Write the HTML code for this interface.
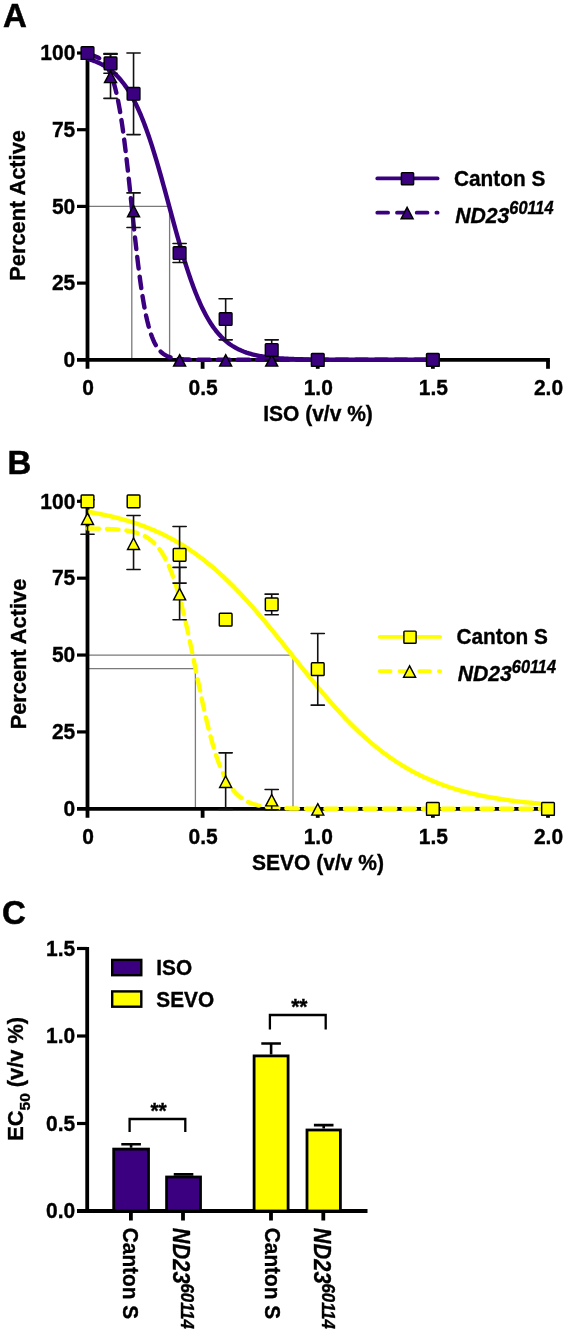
<!DOCTYPE html>
<html><head><meta charset="utf-8"><style>
html,body{margin:0;padding:0;background:#fff;width:566px;height:1333px;overflow:hidden;}
svg{display:block;will-change:transform;}
text{font-family:"Liberation Sans",sans-serif;font-weight:bold;fill:#000;stroke:#000;stroke-width:0.35px;}
.tk{font-size:21px;}
.ti{font-size:21px;}
.ti2{font-size:21.8px;}
.lg{font-size:20.8px;}
.it{font-size:21.2px;font-style:italic;}
.sup{font-size:16.3px;}
.sub{font-size:15.5px;}
.pl{font-size:33px;stroke-width:0.5px;}
.rt{font-size:21.8px;}
.rt .sup{font-size:16.8px;}
</style></head><body>
<svg width="566" height="1333" viewBox="0 0 566 1333">
<rect width="566" height="1333" fill="#fff"/>
<text transform="translate(3.00,27.00) scale(1,1.030)" class="pl">A</text>
<text transform="translate(7.50,474.30) scale(1,1.030)" class="pl">B</text>
<text transform="translate(2.00,924.30) scale(1,1.030)" class="pl">C</text>
<path d="M87.5,206.40 H169.6 V359.80" stroke="#7a7a7a" stroke-width="1.3" fill="none"/>
<path d="M131.8,206.40 V359.80" stroke="#7a7a7a" stroke-width="1.3" fill="none"/>
<path d="M87.5,51.50 V368.80" stroke="#000" stroke-width="3.80"/>
<path d="M77,359.80 H549.90" stroke="#000" stroke-width="3.80"/>
<path d="M77,283.10 H87.5" stroke="#000" stroke-width="3.2"/>
<path d="M77,206.40 H87.5" stroke="#000" stroke-width="3.2"/>
<path d="M77,129.70 H87.5" stroke="#000" stroke-width="3.2"/>
<path d="M77,53.00 H87.5" stroke="#000" stroke-width="3.2"/>
<path d="M202.62,359.80 V368.80" stroke="#000" stroke-width="3.80"/>
<path d="M317.75,359.80 V368.80" stroke="#000" stroke-width="3.80"/>
<path d="M432.88,359.80 V368.80" stroke="#000" stroke-width="3.80"/>
<path d="M548.00,359.80 V368.80" stroke="#000" stroke-width="3.80"/>
<text transform="translate(75.30,367.00) scale(1,1.070)" class="tk" text-anchor="end">0</text>
<text transform="translate(75.30,290.30) scale(1,1.070)" class="tk" text-anchor="end">25</text>
<text transform="translate(75.30,213.60) scale(1,1.070)" class="tk" text-anchor="end">50</text>
<text transform="translate(75.30,136.90) scale(1,1.070)" class="tk" text-anchor="end">75</text>
<text transform="translate(75.30,60.20) scale(1,1.070)" class="tk" text-anchor="end">100</text>
<text transform="translate(88.00,394.60) scale(1,1.070)" class="tk" text-anchor="middle">0</text>
<text transform="translate(203.12,394.60) scale(1,1.070)" class="tk" text-anchor="middle">0.5</text>
<text transform="translate(318.25,394.60) scale(1,1.070)" class="tk" text-anchor="middle">1.0</text>
<text transform="translate(433.38,394.60) scale(1,1.070)" class="tk" text-anchor="middle">1.5</text>
<text transform="translate(548.50,394.60) scale(1,1.070)" class="tk" text-anchor="middle">2.0</text>
<text transform="translate(318.00,421.30) scale(1,1.070)" class="ti" text-anchor="middle">ISO (v/v %)</text>
<text transform="translate(24.80,205.40) rotate(-90) scale(1,1.000)" class="ti2" text-anchor="middle">Percent Active</text>
<path d="M87.50,58.83 L88.65,59.15 L89.80,59.50 L90.95,59.86 L92.11,60.24 L93.26,60.65 L94.41,61.07 L95.56,61.52 L96.71,61.99 L97.86,62.49 L99.01,63.02 L100.16,63.57 L101.31,64.15 L102.47,64.76 L103.62,65.41 L104.77,66.09 L105.92,66.80 L107.07,67.55 L108.22,68.34 L109.37,69.17 L110.53,70.04 L111.68,70.96 L112.83,71.92 L113.98,72.93 L115.13,73.99 L116.28,75.11 L117.43,76.27 L118.58,77.50 L119.74,78.78 L120.89,80.12 L122.04,81.53 L123.19,83.00 L124.34,84.53 L125.49,86.14 L126.64,87.82 L127.79,89.57 L128.94,91.40 L130.10,93.30 L131.25,95.29 L132.40,97.36 L133.55,99.51 L134.70,101.74 L135.85,104.06 L137.00,106.47 L138.16,108.97 L139.31,111.56 L140.46,114.23 L141.61,117.00 L142.76,119.86 L143.91,122.81 L145.06,125.85 L146.21,128.98 L147.37,132.20 L148.52,135.51 L149.67,138.91 L150.82,142.38 L151.97,145.94 L153.12,149.58 L154.27,153.29 L155.42,157.08 L156.57,160.93 L157.73,164.85 L158.88,168.83 L160.03,172.86 L161.18,176.94 L162.33,181.07 L163.48,185.23 L164.63,189.43 L165.79,193.65 L166.94,197.89 L168.09,202.14 L169.24,206.40 L170.39,210.66 L171.54,214.91 L172.69,219.15 L173.84,223.37 L175.00,227.57 L176.15,231.73 L177.30,235.86 L178.45,239.94 L179.60,243.97 L180.75,247.95 L181.90,251.87 L183.05,255.72 L184.20,259.51 L185.36,263.22 L186.51,266.86 L187.66,270.42 L188.81,273.89 L189.96,277.29 L191.11,280.60 L192.26,283.82 L193.42,286.95 L194.57,289.99 L195.72,292.94 L196.87,295.80 L198.02,298.57 L199.17,301.24 L200.32,303.83 L201.47,306.33 L202.62,308.74 L203.78,311.06 L204.93,313.29 L206.08,315.44 L207.23,317.51 L208.38,319.50 L209.53,321.40 L210.68,323.23 L211.84,324.98 L212.99,326.66 L214.14,328.27 L215.29,329.80 L216.44,331.27 L217.59,332.68 L218.74,334.02 L219.89,335.30 L221.04,336.53 L222.20,337.69 L223.35,338.81 L224.50,339.87 L225.65,340.88 L226.80,341.84 L227.95,342.76 L229.10,343.63 L230.25,344.46 L231.41,345.25 L232.56,346.00 L233.71,346.71 L234.86,347.39 L236.01,348.04 L237.16,348.65 L238.31,349.23 L239.47,349.78 L240.62,350.31 L241.77,350.81 L242.92,351.28 L244.07,351.73 L245.22,352.15 L246.37,352.56 L247.52,352.94 L248.67,353.30 L249.83,353.65 L250.98,353.97 L252.13,354.28 L253.28,354.57 L254.43,354.85 L255.58,355.12 L256.73,355.37 L257.88,355.60 L259.04,355.83 L260.19,356.04 L261.34,356.24 L262.49,356.43 L263.64,356.61 L264.79,356.78 L265.94,356.94 L267.10,357.09 L268.25,357.24 L269.40,357.38 L270.55,357.51 L271.70,357.63 L272.85,357.75 L274.00,357.86 L275.15,357.96 L276.30,358.06 L277.46,358.15 L278.61,358.24 L279.76,358.33 L280.91,358.41 L282.06,358.48 L283.21,358.55 L284.36,358.62 L285.51,358.68 L286.67,358.74 L287.82,358.80 L288.97,358.85 L290.12,358.90 L291.27,358.95 L292.42,359.00 L293.57,359.04 L294.73,359.08 L295.88,359.12 L297.03,359.16 L298.18,359.19 L299.33,359.23 L300.48,359.26 L301.63,359.29 L302.78,359.31 L303.93,359.34 L305.09,359.36 L306.24,359.39 L307.39,359.41 L308.54,359.43 L309.69,359.45 L310.84,359.47 L311.99,359.49 L313.14,359.50 L314.30,359.52 L315.45,359.54 L316.60,359.55 L317.75,359.56 L318.90,359.58 L320.05,359.59 L321.20,359.60 L322.36,359.61 L323.51,359.62 L324.66,359.63 L325.81,359.64 L326.96,359.65 L328.11,359.66 L329.26,359.66 L330.41,359.67 L331.57,359.68 L332.72,359.69 L333.87,359.69 L335.02,359.70 L336.17,359.70 L337.32,359.71 L338.47,359.71 L339.62,359.72 L340.78,359.72 L341.93,359.73 L343.08,359.73 L344.23,359.73 L345.38,359.74 L346.53,359.74 L347.68,359.74 L348.83,359.75 L349.98,359.75 L351.14,359.75 L352.29,359.76 L353.44,359.76 L354.59,359.76 L355.74,359.76 L356.89,359.76 L358.04,359.77 L359.19,359.77 L360.35,359.77 L361.50,359.77 L362.65,359.77 L363.80,359.77 L364.95,359.78 L366.10,359.78 L367.25,359.78 L368.40,359.78 L369.56,359.78 L370.71,359.78 L371.86,359.78 L373.01,359.78 L374.16,359.78 L375.31,359.79 L376.46,359.79 L377.62,359.79 L378.77,359.79 L379.92,359.79 L381.07,359.79 L382.22,359.79 L383.37,359.79 L384.52,359.79 L385.67,359.79 L386.82,359.79 L387.98,359.79 L389.13,359.79 L390.28,359.79 L391.43,359.79 L392.58,359.79 L393.73,359.79 L394.88,359.79 L396.04,359.79 L397.19,359.79 L398.34,359.80 L399.49,359.80 L400.64,359.80 L401.79,359.80 L402.94,359.80 L404.09,359.80 L405.24,359.80 L406.40,359.80 L407.55,359.80 L408.70,359.80 L409.85,359.80 L411.00,359.80 L412.15,359.80 L413.30,359.80 L414.45,359.80 L415.61,359.80 L416.76,359.80 L417.91,359.80 L419.06,359.80 L420.21,359.80 L421.36,359.80 L422.51,359.80 L423.66,359.80 L424.82,359.80 L425.97,359.80 L427.12,359.80 L428.27,359.80 L429.42,359.80 L430.57,359.80 L431.72,359.80 L432.88,359.80" stroke="#3B0080" stroke-width="4.40" fill="none"/>
<path d="M87.50,54.27 L88.65,54.46 L89.80,54.68 L90.95,54.94 L92.11,55.24 L93.26,55.58 L94.41,55.97 L95.56,56.42 L96.71,56.94 L97.86,57.53 L99.01,58.22 L100.16,59.00 L101.31,59.90 L102.47,60.94 L103.62,62.12 L104.77,63.47 L105.92,65.02 L107.07,66.78 L108.22,68.79 L109.37,71.07 L110.53,73.65 L111.68,76.58 L112.83,79.89 L113.98,83.60 L115.13,87.77 L116.28,92.42 L117.43,97.60 L118.58,103.32 L119.74,109.62 L120.89,116.52 L122.04,124.02 L123.19,132.11 L124.34,140.78 L125.49,150.00 L126.64,159.72 L127.79,169.86 L128.94,180.36 L130.10,191.11 L131.25,202.02 L132.40,212.97 L133.55,223.86 L134.70,234.57 L135.85,245.00 L137.00,255.06 L138.16,264.68 L139.31,273.80 L140.46,282.36 L141.61,290.33 L142.76,297.71 L143.91,304.48 L145.06,310.67 L146.21,316.28 L147.37,321.35 L148.52,325.90 L149.67,329.97 L150.82,333.61 L151.97,336.83 L153.12,339.69 L154.27,342.21 L155.42,344.44 L156.57,346.39 L157.73,348.11 L158.88,349.61 L160.03,350.93 L161.18,352.08 L162.33,353.09 L163.48,353.96 L164.63,354.73 L165.79,355.39 L166.94,355.97 L168.09,356.48 L169.24,356.91 L170.39,357.30 L171.54,357.63 L172.69,357.91 L173.84,358.16 L175.00,358.38 L176.15,358.57 L177.30,358.73 L178.45,358.87 L179.60,359.00 L180.75,359.10 L181.90,359.20 L183.05,359.28 L184.20,359.35 L185.36,359.41 L186.51,359.46 L187.66,359.50 L188.81,359.54 L189.96,359.58 L191.11,359.61 L192.26,359.63 L193.42,359.66 L194.57,359.67 L195.72,359.69 L196.87,359.71 L198.02,359.72 L199.17,359.73 L200.32,359.74 L201.47,359.75 L202.62,359.75 L203.78,359.76 L204.93,359.77 L206.08,359.77 L207.23,359.77 L208.38,359.78 L209.53,359.78 L210.68,359.78 L211.84,359.79 L212.99,359.79 L214.14,359.79 L215.29,359.79 L216.44,359.79 L217.59,359.79 L218.74,359.79 L219.89,359.79 L221.04,359.80 L222.20,359.80 L223.35,359.80 L224.50,359.80 L225.65,359.80 L226.80,359.80 L227.95,359.80 L229.10,359.80 L230.25,359.80 L231.41,359.80 L232.56,359.80 L233.71,359.80 L234.86,359.80 L236.01,359.80 L237.16,359.80 L238.31,359.80 L239.47,359.80 L240.62,359.80 L241.77,359.80 L242.92,359.80 L244.07,359.80 L245.22,359.80 L246.37,359.80 L247.52,359.80 L248.67,359.80 L249.83,359.80 L250.98,359.80 L252.13,359.80 L253.28,359.80 L254.43,359.80 L255.58,359.80 L256.73,359.80 L257.88,359.80 L259.04,359.80 L260.19,359.80 L261.34,359.80 L262.49,359.80 L263.64,359.80 L264.79,359.80 L265.94,359.80 L267.10,359.80 L268.25,359.80 L269.40,359.80 L270.55,359.80 L271.70,359.80 L272.85,359.80 L274.00,359.80 L275.15,359.80 L276.30,359.80 L277.46,359.80 L278.61,359.80 L279.76,359.80 L280.91,359.80 L282.06,359.80 L283.21,359.80 L284.36,359.80 L285.51,359.80 L286.67,359.80 L287.82,359.80 L288.97,359.80 L290.12,359.80 L291.27,359.80 L292.42,359.80 L293.57,359.80 L294.73,359.80 L295.88,359.80 L297.03,359.80 L298.18,359.80 L299.33,359.80 L300.48,359.80 L301.63,359.80 L302.78,359.80 L303.93,359.80 L305.09,359.80 L306.24,359.80 L307.39,359.80 L308.54,359.80 L309.69,359.80 L310.84,359.80 L311.99,359.80 L313.14,359.80 L314.30,359.80 L315.45,359.80 L316.60,359.80 L317.75,359.80 L318.90,359.80 L320.05,359.80 L321.20,359.80 L322.36,359.80 L323.51,359.80 L324.66,359.80 L325.81,359.80 L326.96,359.80 L328.11,359.80 L329.26,359.80 L330.41,359.80 L331.57,359.80 L332.72,359.80 L333.87,359.80 L335.02,359.80 L336.17,359.80 L337.32,359.80 L338.47,359.80 L339.62,359.80 L340.78,359.80 L341.93,359.80 L343.08,359.80 L344.23,359.80 L345.38,359.80 L346.53,359.80 L347.68,359.80 L348.83,359.80 L349.98,359.80 L351.14,359.80 L352.29,359.80 L353.44,359.80 L354.59,359.80 L355.74,359.80 L356.89,359.80 L358.04,359.80 L359.19,359.80 L360.35,359.80 L361.50,359.80 L362.65,359.80 L363.80,359.80 L364.95,359.80 L366.10,359.80 L367.25,359.80 L368.40,359.80 L369.56,359.80 L370.71,359.80 L371.86,359.80 L373.01,359.80 L374.16,359.80 L375.31,359.80 L376.46,359.80 L377.62,359.80 L378.77,359.80 L379.92,359.80 L381.07,359.80 L382.22,359.80 L383.37,359.80 L384.52,359.80 L385.67,359.80 L386.82,359.80 L387.98,359.80 L389.13,359.80 L390.28,359.80 L391.43,359.80 L392.58,359.80 L393.73,359.80 L394.88,359.80 L396.04,359.80 L397.19,359.80 L398.34,359.80 L399.49,359.80 L400.64,359.80 L401.79,359.80 L402.94,359.80 L404.09,359.80 L405.24,359.80 L406.40,359.80 L407.55,359.80 L408.70,359.80 L409.85,359.80 L411.00,359.80 L412.15,359.80 L413.30,359.80 L414.45,359.80 L415.61,359.80 L416.76,359.80 L417.91,359.80 L419.06,359.80 L420.21,359.80 L421.36,359.80 L422.51,359.80 L423.66,359.80 L424.82,359.80 L425.97,359.80 L427.12,359.80 L428.27,359.80 L429.42,359.80 L430.57,359.80 L431.72,359.80 L432.88,359.80" stroke="#3B0080" stroke-width="4.40" fill="none" stroke-dasharray="11.6 8.1" stroke-dashoffset="-0.80" stroke-linecap="round"/>
<path d="M110.53,54.23 V98.41 M103.93,54.23 H117.12 M103.93,98.41 H117.12" stroke="#111" stroke-width="1.60" stroke-linecap="round" fill="none"/>
<path d="M133.55,192.90 V227.57 M126.95,192.90 H140.15 M126.95,227.57 H140.15" stroke="#111" stroke-width="1.60" stroke-linecap="round" fill="none"/>
<path d="M110.53,53.61 V73.25 M103.93,53.61 H117.12 M103.93,73.25 H117.12" stroke="#111" stroke-width="1.60" stroke-linecap="round" fill="none"/>
<path d="M133.55,53.00 V134.61 M126.95,53.00 H140.15 M126.95,134.61 H140.15" stroke="#111" stroke-width="1.60" stroke-linecap="round" fill="none"/>
<path d="M179.60,243.52 V262.54 M173.00,243.52 H186.20 M173.00,262.54 H186.20" stroke="#111" stroke-width="1.60" stroke-linecap="round" fill="none"/>
<path d="M225.65,298.75 V339.86 M219.05,298.75 H232.25 M219.05,339.86 H232.25" stroke="#111" stroke-width="1.60" stroke-linecap="round" fill="none"/>
<path d="M271.70,339.86 V360.11 M265.10,339.86 H278.30 M265.10,360.11 H278.30" stroke="#111" stroke-width="1.60" stroke-linecap="round" fill="none"/>
<path d="M87.50,47.90 L93.50,59.30 L81.50,59.30 Z" fill="#3B0080" stroke="#000" stroke-width="1.45"/>
<path d="M110.53,71.22 L116.53,82.62 L104.53,82.62 Z" fill="#3B0080" stroke="#000" stroke-width="1.45"/>
<path d="M133.55,205.29 L139.55,216.69 L127.55,216.69 Z" fill="#3B0080" stroke="#000" stroke-width="1.45"/>
<path d="M179.60,354.70 L185.60,366.10 L173.60,366.10 Z" fill="#3B0080" stroke="#000" stroke-width="1.45"/>
<path d="M225.65,354.70 L231.65,366.10 L219.65,366.10 Z" fill="#3B0080" stroke="#000" stroke-width="1.45"/>
<path d="M271.70,354.70 L277.70,366.10 L265.70,366.10 Z" fill="#3B0080" stroke="#000" stroke-width="1.45"/>
<path d="M317.75,354.70 L323.75,366.10 L311.75,366.10 Z" fill="#3B0080" stroke="#000" stroke-width="1.45"/>
<path d="M432.88,354.70 L438.88,366.10 L426.88,366.10 Z" fill="#3B0080" stroke="#000" stroke-width="1.45"/>
<rect x="81.15" y="46.65" width="12.70" height="12.70" rx="0.8" fill="#3B0080" stroke="#000" stroke-width="1.45"/>
<rect x="104.18" y="57.08" width="12.70" height="12.70" rx="0.8" fill="#3B0080" stroke="#000" stroke-width="1.45"/>
<rect x="127.20" y="87.45" width="12.70" height="12.70" rx="0.8" fill="#3B0080" stroke="#000" stroke-width="1.45"/>
<rect x="173.25" y="246.68" width="12.70" height="12.70" rx="0.8" fill="#3B0080" stroke="#000" stroke-width="1.45"/>
<rect x="219.30" y="312.65" width="12.70" height="12.70" rx="0.8" fill="#3B0080" stroke="#000" stroke-width="1.45"/>
<rect x="265.35" y="343.63" width="12.70" height="12.70" rx="0.8" fill="#3B0080" stroke="#000" stroke-width="1.45"/>
<rect x="311.40" y="353.45" width="12.70" height="12.70" rx="0.8" fill="#3B0080" stroke="#000" stroke-width="1.45"/>
<rect x="426.52" y="353.45" width="12.70" height="12.70" rx="0.8" fill="#3B0080" stroke="#000" stroke-width="1.45"/>
<path d="M377.30,178.40 H437.60" stroke="#3B0080" stroke-width="3.80" stroke-linecap="round"/>
<rect x="401.40" y="172.60" width="12.20" height="12.20" rx="0.8" fill="#3B0080" stroke="#000" stroke-width="1.45"/>
<path d="M377.30,212.70 H437.60" stroke="#3B0080" stroke-width="3.80" stroke-linecap="round" stroke-dasharray="10.8 8.9"/>
<path d="M407.10,207.30 L413.10,218.70 L401.10,218.70 Z" fill="#3B0080" stroke="#000" stroke-width="1.45"/>
<text transform="translate(454.00,185.80) scale(1,1.070)" class="lg">Canton S</text>
<text transform="translate(455.20,222.90) scale(1,1.070)" class="it">ND23<tspan class="sup" dy="-8.2">60114</tspan></text>
<path d="M87.5,655.05 H293.0 V808.80" stroke="#7a7a7a" stroke-width="1.3" fill="none"/>
<path d="M87.5,668.58 H195.4 V808.80" stroke="#7a7a7a" stroke-width="1.3" fill="none"/>
<path d="M87.5,499.80 V817.80" stroke="#000" stroke-width="3.80"/>
<path d="M77,808.80 H549.90" stroke="#000" stroke-width="3.80"/>
<path d="M77,731.92 H87.5" stroke="#000" stroke-width="3.2"/>
<path d="M77,655.05 H87.5" stroke="#000" stroke-width="3.2"/>
<path d="M77,578.17 H87.5" stroke="#000" stroke-width="3.2"/>
<path d="M77,501.30 H87.5" stroke="#000" stroke-width="3.2"/>
<path d="M202.62,808.80 V817.80" stroke="#000" stroke-width="3.80"/>
<path d="M317.75,808.80 V817.80" stroke="#000" stroke-width="3.80"/>
<path d="M432.88,808.80 V817.80" stroke="#000" stroke-width="3.80"/>
<path d="M548.00,808.80 V817.80" stroke="#000" stroke-width="3.80"/>
<text transform="translate(75.30,816.00) scale(1,1.070)" class="tk" text-anchor="end">0</text>
<text transform="translate(75.30,739.12) scale(1,1.070)" class="tk" text-anchor="end">25</text>
<text transform="translate(75.30,662.25) scale(1,1.070)" class="tk" text-anchor="end">50</text>
<text transform="translate(75.30,585.38) scale(1,1.070)" class="tk" text-anchor="end">75</text>
<text transform="translate(75.30,508.50) scale(1,1.070)" class="tk" text-anchor="end">100</text>
<text transform="translate(88.00,843.60) scale(1,1.070)" class="tk" text-anchor="middle">0</text>
<text transform="translate(203.12,843.60) scale(1,1.070)" class="tk" text-anchor="middle">0.5</text>
<text transform="translate(318.25,843.60) scale(1,1.070)" class="tk" text-anchor="middle">1.0</text>
<text transform="translate(433.38,843.60) scale(1,1.070)" class="tk" text-anchor="middle">1.5</text>
<text transform="translate(548.50,843.60) scale(1,1.070)" class="tk" text-anchor="middle">2.0</text>
<text transform="translate(318.00,870.30) scale(1,1.070)" class="ti" text-anchor="middle">SEVO (v/v %)</text>
<text transform="translate(25.80,654.05) rotate(-90) scale(1,1.000)" class="ti2" text-anchor="middle">Percent Active</text>
<path d="M87.50,511.71 L89.03,511.97 L90.57,512.23 L92.11,512.50 L93.64,512.77 L95.17,513.06 L96.71,513.34 L98.25,513.64 L99.78,513.94 L101.31,514.25 L102.85,514.56 L104.39,514.89 L105.92,515.22 L107.45,515.56 L108.99,515.90 L110.53,516.25 L112.06,516.62 L113.59,516.99 L115.13,517.37 L116.67,517.75 L118.20,518.15 L119.74,518.55 L121.27,518.97 L122.81,519.39 L124.34,519.83 L125.88,520.27 L127.41,520.72 L128.94,521.18 L130.48,521.66 L132.01,522.14 L133.55,522.63 L135.09,523.14 L136.62,523.66 L138.16,524.18 L139.69,524.72 L141.22,525.27 L142.76,525.83 L144.30,526.41 L145.83,526.99 L147.37,527.59 L148.90,528.20 L150.44,528.83 L151.97,529.46 L153.50,530.12 L155.04,530.78 L156.57,531.46 L158.11,532.15 L159.65,532.85 L161.18,533.57 L162.72,534.31 L164.25,535.05 L165.79,535.82 L167.32,536.60 L168.86,537.39 L170.39,538.20 L171.93,539.02 L173.46,539.86 L175.00,540.72 L176.53,541.59 L178.06,542.48 L179.60,543.39 L181.13,544.31 L182.67,545.25 L184.20,546.21 L185.74,547.18 L187.28,548.17 L188.81,549.18 L190.34,550.20 L191.88,551.25 L193.42,552.31 L194.95,553.39 L196.49,554.49 L198.02,555.60 L199.56,556.74 L201.09,557.89 L202.62,559.06 L204.16,560.25 L205.69,561.46 L207.23,562.68 L208.76,563.93 L210.30,565.19 L211.84,566.47 L213.37,567.78 L214.91,569.10 L216.44,570.44 L217.97,571.79 L219.51,573.17 L221.04,574.56 L222.58,575.98 L224.12,577.41 L225.65,578.86 L227.19,580.33 L228.72,581.81 L230.25,583.32 L231.79,584.84 L233.32,586.38 L234.86,587.93 L236.39,589.51 L237.93,591.10 L239.47,592.71 L241.00,594.33 L242.53,595.97 L244.07,597.63 L245.60,599.30 L247.14,600.99 L248.67,602.69 L250.21,604.41 L251.75,606.14 L253.28,607.88 L254.81,609.64 L256.35,611.41 L257.88,613.20 L259.42,614.99 L260.95,616.80 L262.49,618.62 L264.02,620.45 L265.56,622.30 L267.10,624.15 L268.63,626.01 L270.16,627.88 L271.70,629.75 L273.24,631.64 L274.77,633.53 L276.30,635.43 L277.84,637.34 L279.38,639.25 L280.91,641.16 L282.44,643.08 L283.98,645.01 L285.51,646.93 L287.05,648.86 L288.58,650.80 L290.12,652.73 L291.65,654.66 L293.19,656.60 L294.73,658.53 L296.26,660.46 L297.79,662.39 L299.33,664.32 L300.87,666.25 L302.40,668.17 L303.93,670.09 L305.47,672.00 L307.00,673.91 L308.54,675.81 L310.07,677.70 L311.61,679.59 L313.14,681.47 L314.68,683.35 L316.22,685.21 L317.75,687.07 L319.28,688.91 L320.82,690.75 L322.36,692.57 L323.89,694.38 L325.43,696.18 L326.96,697.97 L328.50,699.75 L330.03,701.51 L331.57,703.27 L333.10,705.00 L334.63,706.72 L336.17,708.43 L337.71,710.13 L339.24,711.80 L340.78,713.47 L342.31,715.11 L343.84,716.74 L345.38,718.36 L346.92,719.96 L348.45,721.54 L349.98,723.10 L351.52,724.65 L353.06,726.18 L354.59,727.69 L356.12,729.18 L357.66,730.66 L359.19,732.11 L360.73,733.55 L362.26,734.97 L363.80,736.38 L365.34,737.76 L366.87,739.12 L368.40,740.47 L369.94,741.80 L371.48,743.11 L373.01,744.40 L374.54,745.67 L376.08,746.92 L377.62,748.16 L379.15,749.37 L380.69,750.57 L382.22,751.75 L383.75,752.91 L385.29,754.05 L386.82,755.17 L388.36,756.27 L389.89,757.36 L391.43,758.43 L392.96,759.48 L394.50,760.51 L396.04,761.53 L397.57,762.53 L399.10,763.51 L400.64,764.47 L402.18,765.42 L403.71,766.34 L405.24,767.26 L406.78,768.15 L408.31,769.03 L409.85,769.89 L411.38,770.74 L412.92,771.57 L414.45,772.39 L415.99,773.19 L417.52,773.97 L419.06,774.74 L420.60,775.50 L422.13,776.24 L423.66,776.96 L425.20,777.67 L426.74,778.37 L428.27,779.05 L429.81,779.72 L431.34,780.38 L432.88,781.02 L434.41,781.65 L435.94,782.26 L437.48,782.87 L439.01,783.46 L440.55,784.04 L442.09,784.60 L443.62,785.16 L445.15,785.70 L446.69,786.23 L448.23,786.76 L449.76,787.26 L451.30,787.76 L452.83,788.25 L454.37,788.73 L455.90,789.19 L457.44,789.65 L458.97,790.10 L460.51,790.54 L462.04,790.96 L463.57,791.38 L465.11,791.79 L466.65,792.19 L468.18,792.58 L469.71,792.96 L471.25,793.34 L472.79,793.70 L474.32,794.06 L475.86,794.41 L477.39,794.75 L478.93,795.08 L480.46,795.41 L482.00,795.73 L483.53,796.04 L485.06,796.34 L486.60,796.64 L488.13,796.93 L489.67,797.21 L491.21,797.49 L492.74,797.76 L494.27,798.03 L495.81,798.29 L497.35,798.54 L498.88,798.78 L500.41,799.03 L501.95,799.26 L503.49,799.49 L505.02,799.71 L506.56,799.93 L508.09,800.15 L509.62,800.36 L511.16,800.56 L512.69,800.76 L514.23,800.96 L515.77,801.15 L517.30,801.33 L518.84,801.51 L520.37,801.69 L521.90,801.86 L523.44,802.03 L524.97,802.19 L526.51,802.36 L528.05,802.51 L529.58,802.67 L531.12,802.81 L532.65,802.96 L534.18,803.10 L535.72,803.24 L537.25,803.38 L538.79,803.51 L540.33,803.64 L541.86,803.77 L543.39,803.89 L544.93,804.01 L546.47,804.13 L548.00,804.24" stroke="#FFFF00" stroke-width="4.40" fill="none"/>
<path d="M87.50,528.51 L89.03,528.52 L90.57,528.54 L92.11,528.56 L93.64,528.58 L95.17,528.61 L96.71,528.64 L98.25,528.67 L99.78,528.70 L101.31,528.74 L102.85,528.79 L104.39,528.83 L105.92,528.89 L107.45,528.95 L108.99,529.01 L110.53,529.09 L112.06,529.17 L113.59,529.26 L115.13,529.36 L116.67,529.48 L118.20,529.60 L119.74,529.74 L121.27,529.90 L122.81,530.07 L124.34,530.27 L125.88,530.48 L127.41,530.72 L128.94,530.99 L130.48,531.28 L132.01,531.61 L133.55,531.97 L135.09,532.38 L136.62,532.83 L138.16,533.32 L139.69,533.88 L141.22,534.49 L142.76,535.17 L144.30,535.92 L145.83,536.75 L147.37,537.67 L148.90,538.69 L150.44,539.82 L151.97,541.06 L153.50,542.43 L155.04,543.94 L156.57,545.60 L158.11,547.42 L159.65,549.42 L161.18,551.62 L162.72,554.01 L164.25,556.63 L165.79,559.49 L167.32,562.59 L168.86,565.95 L170.39,569.59 L171.93,573.52 L173.46,577.74 L175.00,582.27 L176.53,587.11 L178.06,592.26 L179.60,597.72 L181.13,603.49 L182.67,609.55 L184.20,615.89 L185.74,622.49 L187.28,629.32 L188.81,636.37 L190.34,643.59 L191.88,650.96 L193.42,658.42 L194.95,665.94 L196.49,673.48 L198.02,680.99 L199.56,688.42 L201.09,695.75 L202.62,702.92 L204.16,709.91 L205.69,716.68 L207.23,723.21 L208.76,729.46 L210.30,735.44 L211.84,741.11 L213.37,746.48 L214.91,751.53 L216.44,756.28 L217.97,760.71 L219.51,764.85 L221.04,768.69 L222.58,772.24 L224.12,775.53 L225.65,778.55 L227.19,781.34 L228.72,783.89 L230.25,786.22 L231.79,788.36 L233.32,790.30 L234.86,792.08 L236.39,793.69 L237.93,795.16 L239.47,796.49 L241.00,797.69 L242.53,798.78 L244.07,799.77 L245.60,800.67 L247.14,801.47 L248.67,802.20 L250.21,802.86 L251.75,803.45 L253.28,803.99 L254.81,804.47 L256.35,804.91 L257.88,805.30 L259.42,805.65 L260.95,805.97 L262.49,806.26 L264.02,806.51 L265.56,806.74 L267.10,806.95 L268.63,807.14 L270.16,807.31 L271.70,807.46 L273.24,807.60 L274.77,807.72 L276.30,807.83 L277.84,807.93 L279.38,808.02 L280.91,808.10 L282.44,808.17 L283.98,808.23 L285.51,808.29 L287.05,808.34 L288.58,808.39 L290.12,808.43 L291.65,808.47 L293.19,808.50 L294.73,808.53 L296.26,808.56 L297.79,808.58 L299.33,808.61 L300.87,808.63 L302.40,808.64 L303.93,808.66 L305.47,808.67 L307.00,808.69 L308.54,808.70 L310.07,808.71 L311.61,808.72 L313.14,808.73 L314.68,808.73 L316.22,808.74 L317.75,808.75 L319.28,808.75 L320.82,808.76 L322.36,808.76 L323.89,808.77 L325.43,808.77 L326.96,808.77 L328.50,808.77 L330.03,808.78 L331.57,808.78 L333.10,808.78 L334.63,808.78 L336.17,808.79 L337.71,808.79 L339.24,808.79 L340.78,808.79 L342.31,808.79 L343.84,808.79 L345.38,808.79 L346.92,808.79 L348.45,808.79 L349.98,808.79 L351.52,808.79 L353.06,808.80 L354.59,808.80 L356.12,808.80 L357.66,808.80 L359.19,808.80 L360.73,808.80 L362.26,808.80 L363.80,808.80 L365.34,808.80 L366.87,808.80 L368.40,808.80 L369.94,808.80 L371.48,808.80 L373.01,808.80 L374.54,808.80 L376.08,808.80 L377.62,808.80 L379.15,808.80 L380.69,808.80 L382.22,808.80 L383.75,808.80 L385.29,808.80 L386.82,808.80 L388.36,808.80 L389.89,808.80 L391.43,808.80 L392.96,808.80 L394.50,808.80 L396.04,808.80 L397.57,808.80 L399.10,808.80 L400.64,808.80 L402.18,808.80 L403.71,808.80 L405.24,808.80 L406.78,808.80 L408.31,808.80 L409.85,808.80 L411.38,808.80 L412.92,808.80 L414.45,808.80 L415.99,808.80 L417.52,808.80 L419.06,808.80 L420.60,808.80 L422.13,808.80 L423.66,808.80 L425.20,808.80 L426.74,808.80 L428.27,808.80 L429.81,808.80 L431.34,808.80 L432.88,808.80 L434.41,808.80 L435.94,808.80 L437.48,808.80 L439.01,808.80 L440.55,808.80 L442.09,808.80 L443.62,808.80 L445.15,808.80 L446.69,808.80 L448.23,808.80 L449.76,808.80 L451.30,808.80 L452.83,808.80 L454.37,808.80 L455.90,808.80 L457.44,808.80 L458.97,808.80 L460.51,808.80 L462.04,808.80 L463.57,808.80 L465.11,808.80 L466.65,808.80 L468.18,808.80 L469.71,808.80 L471.25,808.80 L472.79,808.80 L474.32,808.80 L475.86,808.80 L477.39,808.80 L478.93,808.80 L480.46,808.80 L482.00,808.80 L483.53,808.80 L485.06,808.80 L486.60,808.80 L488.13,808.80 L489.67,808.80 L491.21,808.80 L492.74,808.80 L494.27,808.80 L495.81,808.80 L497.35,808.80 L498.88,808.80 L500.41,808.80 L501.95,808.80 L503.49,808.80 L505.02,808.80 L506.56,808.80 L508.09,808.80 L509.62,808.80 L511.16,808.80 L512.69,808.80 L514.23,808.80 L515.77,808.80 L517.30,808.80 L518.84,808.80 L520.37,808.80 L521.90,808.80 L523.44,808.80 L524.97,808.80 L526.51,808.80 L528.05,808.80 L529.58,808.80 L531.12,808.80 L532.65,808.80 L534.18,808.80 L535.72,808.80 L537.25,808.80 L538.79,808.80 L540.33,808.80 L541.86,808.80 L543.39,808.80 L544.93,808.80 L546.47,808.80 L548.00,808.80" stroke="#FFFF00" stroke-width="4.40" fill="none" stroke-dasharray="11.5 8" stroke-dashoffset="0.00" stroke-linecap="round"/>
<path d="M87.50,499.76 V534.20 M80.90,499.76 H94.10 M80.90,534.20 H94.10" stroke="#111" stroke-width="1.60" stroke-linecap="round" fill="none"/>
<path d="M133.55,515.44 V569.57 M126.95,515.44 H140.15 M126.95,569.57 H140.15" stroke="#111" stroke-width="1.60" stroke-linecap="round" fill="none"/>
<path d="M179.60,567.41 V619.69 M173.00,567.41 H186.20 M173.00,619.69 H186.20" stroke="#111" stroke-width="1.60" stroke-linecap="round" fill="none"/>
<path d="M225.65,752.83 V809.41 M219.05,752.83 H232.25 M219.05,809.41 H232.25" stroke="#111" stroke-width="1.60" stroke-linecap="round" fill="none"/>
<path d="M271.70,789.43 V809.72 M265.10,789.43 H278.30 M265.10,809.72 H278.30" stroke="#111" stroke-width="1.60" stroke-linecap="round" fill="none"/>
<path d="M179.60,526.52 V583.10 M173.00,526.52 H186.20 M173.00,583.10 H186.20" stroke="#111" stroke-width="1.60" stroke-linecap="round" fill="none"/>
<path d="M271.70,594.16 V614.77 M265.10,594.16 H278.30 M265.10,614.77 H278.30" stroke="#111" stroke-width="1.60" stroke-linecap="round" fill="none"/>
<path d="M317.75,633.52 V705.17 M311.15,633.52 H324.35 M311.15,705.17 H324.35" stroke="#111" stroke-width="1.60" stroke-linecap="round" fill="none"/>
<path d="M87.50,513.11 L93.50,524.51 L81.50,524.51 Z" fill="#FFFF00" stroke="#000" stroke-width="1.45"/>
<path d="M133.55,538.02 L139.55,549.42 L127.55,549.42 Z" fill="#FFFF00" stroke="#000" stroke-width="1.45"/>
<path d="M179.60,588.45 L185.60,599.85 L173.60,599.85 Z" fill="#FFFF00" stroke="#000" stroke-width="1.45"/>
<path d="M225.65,776.02 L231.65,787.43 L219.65,787.43 Z" fill="#FFFF00" stroke="#000" stroke-width="1.45"/>
<path d="M271.70,794.47 L277.70,805.88 L265.70,805.88 Z" fill="#FFFF00" stroke="#000" stroke-width="1.45"/>
<path d="M317.75,803.70 L323.75,815.10 L311.75,815.10 Z" fill="#FFFF00" stroke="#000" stroke-width="1.45"/>
<path d="M432.88,803.70 L438.88,815.10 L426.88,815.10 Z" fill="#FFFF00" stroke="#000" stroke-width="1.45"/>
<path d="M548.00,803.70 L554.00,815.10 L542.00,815.10 Z" fill="#FFFF00" stroke="#000" stroke-width="1.45"/>
<rect x="81.15" y="494.95" width="12.70" height="12.70" rx="0.8" fill="#FFFF00" stroke="#000" stroke-width="1.45"/>
<rect x="127.20" y="494.95" width="12.70" height="12.70" rx="0.8" fill="#FFFF00" stroke="#000" stroke-width="1.45"/>
<rect x="173.25" y="548.46" width="12.70" height="12.70" rx="0.8" fill="#FFFF00" stroke="#000" stroke-width="1.45"/>
<rect x="219.30" y="613.34" width="12.70" height="12.70" rx="0.8" fill="#FFFF00" stroke="#000" stroke-width="1.45"/>
<rect x="265.35" y="597.96" width="12.70" height="12.70" rx="0.8" fill="#FFFF00" stroke="#000" stroke-width="1.45"/>
<rect x="311.40" y="662.84" width="12.70" height="12.70" rx="0.8" fill="#FFFF00" stroke="#000" stroke-width="1.45"/>
<rect x="426.52" y="802.45" width="12.70" height="12.70" rx="0.8" fill="#FFFF00" stroke="#000" stroke-width="1.45"/>
<rect x="541.65" y="802.45" width="12.70" height="12.70" rx="0.8" fill="#FFFF00" stroke="#000" stroke-width="1.45"/>
<path d="M379.80,636.90 H440.10" stroke="#FFFF00" stroke-width="3.80" stroke-linecap="round"/>
<rect x="403.90" y="631.10" width="12.20" height="12.20" rx="0.8" fill="#FFFF00" stroke="#000" stroke-width="1.45"/>
<path d="M379.80,671.20 H440.10" stroke="#FFFF00" stroke-width="3.80" stroke-linecap="round" stroke-dasharray="10.8 8.9"/>
<path d="M409.60,665.80 L415.60,677.20 L403.60,677.20 Z" fill="#FFFF00" stroke="#000" stroke-width="1.45"/>
<text transform="translate(456.50,644.30) scale(1,1.070)" class="lg">Canton S</text>
<text transform="translate(457.70,681.40) scale(1,1.070)" class="it">ND23<tspan class="sup" dy="-8.2">60114</tspan></text>
<path d="M87.2,947.00 V1211.00" stroke="#000" stroke-width="3.80"/>
<path d="M77,1211.00 H367.5" stroke="#000" stroke-width="3.80"/>
<path d="M77,1123.50 H87.2" stroke="#000" stroke-width="3.2"/>
<path d="M77,1036.00 H87.2" stroke="#000" stroke-width="3.2"/>
<path d="M77,948.50 H87.2" stroke="#000" stroke-width="3.2"/>
<text transform="translate(75.30,1218.20) scale(1,1.070)" class="tk" text-anchor="end">0.0</text>
<text transform="translate(75.30,1130.70) scale(1,1.070)" class="tk" text-anchor="end">0.5</text>
<text transform="translate(75.30,1043.20) scale(1,1.070)" class="tk" text-anchor="end">1.0</text>
<text transform="translate(75.30,955.70) scale(1,1.070)" class="tk" text-anchor="end">1.5</text>
<path d="M130.90,1211.00 V1220.50" stroke="#000" stroke-width="3.80"/>
<path d="M183.00,1211.00 V1220.50" stroke="#000" stroke-width="3.80"/>
<path d="M271.00,1211.00 V1220.50" stroke="#000" stroke-width="3.80"/>
<path d="M323.30,1211.00 V1220.50" stroke="#000" stroke-width="3.80"/>
<path d="M131.10,1147.70 V1144.20 M121.30,1144.20 H140.90" stroke="#000" stroke-width="2.6" fill="none"/>
<rect x="113.70" y="1149.10" width="34.80" height="61.90" fill="#3B0080" stroke="#000" stroke-width="2.8"/>
<path d="M183.55,1175.60 V1174.40 M173.75,1174.40 H193.35" stroke="#000" stroke-width="2.6" fill="none"/>
<rect x="166.60" y="1177.00" width="33.90" height="34.00" fill="#3B0080" stroke="#000" stroke-width="2.8"/>
<path d="M271.10,1054.50 V1043.50 M261.30,1043.50 H280.90" stroke="#000" stroke-width="2.6" fill="none"/>
<rect x="254.10" y="1055.90" width="34.00" height="155.10" fill="#FFFF00" stroke="#000" stroke-width="2.8"/>
<path d="M323.70,1128.60 V1125.10 M313.90,1125.10 H333.50" stroke="#000" stroke-width="2.6" fill="none"/>
<rect x="307.00" y="1130.00" width="33.40" height="81.00" fill="#FFFF00" stroke="#000" stroke-width="2.8"/>
<path d="M129.60,1132.00 V1119.00 H185.30 V1132.00" stroke="#000" stroke-width="2.3" fill="none"/>
<text transform="translate(158.60,1117.80) scale(1,1.070)" class="tk" text-anchor="middle">**</text>
<path d="M269.90,1029.50 V1015.00 H325.70 V1029.50" stroke="#000" stroke-width="2.3" fill="none"/>
<text transform="translate(299.30,1013.60) scale(1,1.070)" class="tk" text-anchor="middle">**</text>
<rect x="112.2" y="959.9" width="29.1" height="15.3" fill="#3B0080" stroke="#000" stroke-width="2.4"/>
<rect x="112.2" y="991.4" width="29.1" height="15.3" fill="#FFFF00" stroke="#000" stroke-width="2.4"/>
<text transform="translate(156.30,975.20) scale(1,1.070)" class="lg">ISO</text>
<text transform="translate(156.30,1006.50) scale(1,1.070)" class="lg">SEVO</text>
<text transform="translate(22.60,1078.80) rotate(-90) scale(1,1.000)" class="ti2" text-anchor="middle">EC<tspan class="sub" dy="7.2">50</tspan><tspan dy="-7.2"> (v/v %)</tspan></text>
<text transform="translate(122.80,1227.80) rotate(90) scale(1,1.070)" class="lg">Canton S</text>
<text transform="translate(264.60,1227.80) rotate(90) scale(1,1.070)" class="lg">Canton S</text>
<text transform="translate(172.50,1227.80) rotate(90) scale(1,1.070)" class="it rt">ND23<tspan class="sup" dy="-8.2">60114</tspan></text>
<text transform="translate(313.50,1227.80) rotate(90) scale(1,1.070)" class="it rt">ND23<tspan class="sup" dy="-8.2">60114</tspan></text>
</svg>
</body></html>
